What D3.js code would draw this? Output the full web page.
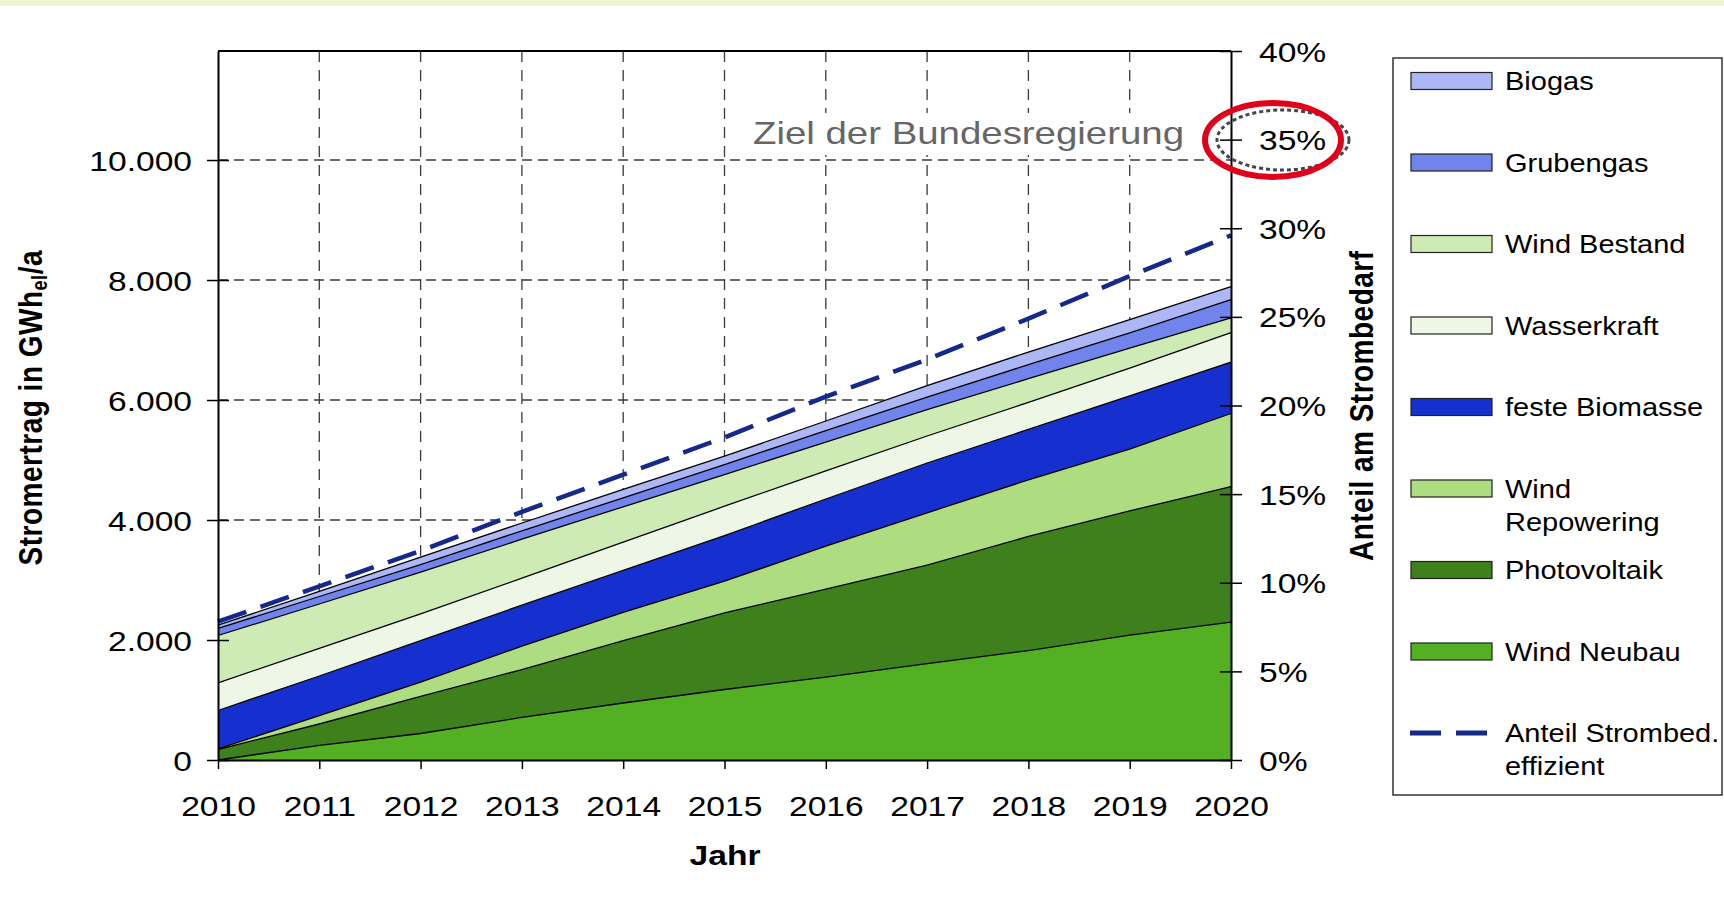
<!DOCTYPE html>
<html><head><meta charset="utf-8">
<script src="https://cdn.jsdelivr.net/npm/d3@7"></script>
<style>
html,body{margin:0;padding:0;background:#fff;overflow:hidden;}
svg{display:block;font-family:"Liberation Sans",Arial,sans-serif;}
</style></head><body>
<svg id="chart" width="1724" height="909"></svg>
<script>
// ---------------- data ----------------
const years = [2010,2011,2012,2013,2014,2015,2016,2017,2018,2019,2020];
const windNeubau     = [0,245,442,710,950,1175,1380,1608,1823,2083,2298];
const photovoltaik   = [175,355,618,798,1040,1278,1468,1639,1903,2069,2260];
const windRepowering = [12,140,237,389,470,527,716,873,944,1031,1217];
const festeBiomasse  = [638,660,693,683,700,760,786,830,840,887,857];
const wasserkraft    = [462,460,446,450,470,490,470,450,450,460,493];
const windBestand    = [788,740,694,650,590,528,480,440,395,333,243];
const grubengas      = [117,125,128,140,150,167,190,210,233,257,307];
const biogas         = [55,85,122,130,140,139,160,190,212,220,215];
const anteilEffizient = [7.8,9.8,11.8,14.0,16.1,18.2,20.5,22.6,24.9,27.3,29.6]; // %

const seriesNames  = ["Wind Neubau","Photovoltaik","Wind Repowering","feste Biomasse","Wasserkraft","Wind Bestand","Grubengas","Biogas"];
const seriesValues = [windNeubau,photovoltaik,windRepowering,festeBiomasse,wasserkraft,windBestand,grubengas,biogas];
const seriesColors = ["#53b023","#3e801c","#aedc80","#1630d0","#eef6e5","#cfebb5","#7184ec","#adb7f6"];
const legendOrder  = ["Biogas","Grubengas","Wind Bestand","Wasserkraft","feste Biomasse","Wind Repowering","Photovoltaik","Wind Neubau"];
const legendLabels = {"Wind Repowering":["Wind","Repowering"]};
const lineLabel    = ["Anteil Strombed.","effizient"];
const leftTicks  = [0,2000,4000,6000,8000,10000];
const rightTicks = [0,5,10,15,20,25,30,35,40];
const leftMax = 11817;   // GWh at top of plot (= 40 %)
const annotationText = "Ziel der Bundesregierung";

// ---------------- setup ----------------
const FONT = '"Liberation Sans", Arial, sans-serif';
const SX = 1.2;
const svg = d3.select("#chart");
const M = {left:218, right:1231, top:51, bottom:760};
const x  = d3.scaleLinear().domain([2010,2020]).range([M.left,M.right]);
const yL = d3.scaleLinear().domain([0,leftMax]).range([M.bottom,M.top]);
const yR = d3.scaleLinear().domain([0,40]).range([M.bottom,M.top]);
const de = d3.formatLocale({decimal:",",thousands:".",grouping:[3],currency:["","€"]});
const fmtDE = de.format(",d");

function stext(parent, tx, ty, str, o={}) {
  const t = parent.append("text")
    .attr("transform", `translate(${tx},${ty}) scale(${o.sx||SX},1)${o.rot?` rotate(${o.rot})`:""}`)
    .attr("font-size", o.size||28).attr("font-weight", o.weight||"normal")
    .attr("font-family", FONT)
    .attr("text-anchor", o.anchor||"start").attr("fill", o.fill||"#000");
  if (o.dy) t.attr("dy", o.dy);
  if (str !== null) t.text(str);
  return t;
}

// top band
svg.append("rect").attr("x",0).attr("y",0).attr("width",1724).attr("height",6).attr("fill","#eff5d0");

// grid
const grid = svg.append("g");
grid.selectAll(".hg").data(leftTicks.filter(d=>d>0)).join("line")
  .attr("x1",M.left).attr("x2",M.right).attr("y1",d=>yL(d)).attr("y2",d=>yL(d))
  .attr("stroke","#3a3a3a").attr("stroke-width",1.3).attr("stroke-dasharray","10,6");
grid.selectAll(".vg").data(years.slice(1,-1)).join("line")
  .attr("x1",d=>x(d)).attr("x2",d=>x(d)).attr("y1",M.top).attr("y2",M.bottom)
  .attr("stroke","#3a3a3a").attr("stroke-width",1.3).attr("stroke-dasharray","11,8");

// white box behind annotation
svg.append("rect").attr("x",742).attr("y",113).attr("width",453).attr("height",42).attr("fill","#fff");

// stacked areas
const table = years.map((yr,i)=>{
  const o = {year:yr};
  seriesNames.forEach((n,k)=>o[n]=seriesValues[k][i]);
  return o;
});
const stacked = d3.stack().keys(seriesNames)(table);
const area = d3.area().x(d=>x(d.data.year)).y0(d=>yL(d[0])).y1(d=>yL(d[1]));
const topLine = d3.line().x(d=>x(d.data.year)).y(d=>yL(d[1]));
const gA = svg.append("g");
gA.selectAll("path.a").data(stacked).join("path").attr("class","a")
  .attr("d",area).attr("fill",(d,i)=>seriesColors[i]);
gA.selectAll("path.l").data(stacked).join("path").attr("class","l")
  .attr("d",topLine).attr("fill","none").attr("stroke","#000").attr("stroke-width",1.3);

// dashed share line
svg.append("path").datum(anteilEffizient)
  .attr("d", d3.line().x((d,i)=>x(years[i])).y(d=>yR(d)))
  .attr("fill","none").attr("stroke","#16288c").attr("stroke-width",4.5).attr("stroke-dasharray","30,15");

// axes
const gL = svg.append("g").attr("transform",`translate(${M.left},0)`)
  .call(d3.axisLeft(yL).tickValues(leftTicks).tickFormat(fmtDE).tickSizeOuter(0));
gL.attr("font-size",28).attr("font-family",FONT);
gL.select(".domain").attr("stroke","#000").attr("stroke-width",2);
gL.selectAll(".tick line").attr("x1",-11).attr("x2",11).attr("stroke","#000").attr("stroke-width",1.5);
gL.selectAll(".tick text").attr("x",null).attr("dy","0.36em").attr("fill","#000")
  .attr("transform",`translate(-26,0) scale(${SX},1)`);

const gR = svg.append("g").attr("transform",`translate(${M.right},0)`)
  .call(d3.axisRight(yR).tickValues(rightTicks).tickFormat(d=>d+"%").tickSizeOuter(0));
gR.attr("font-size",28).attr("font-family",FONT);
gR.select(".domain").attr("stroke","#000").attr("stroke-width",2);
gR.selectAll(".tick line").attr("x1",-11).attr("x2",11).attr("stroke","#000").attr("stroke-width",1.5);
gR.selectAll(".tick text").attr("x",null).attr("dy","0.36em").attr("fill","#000")
  .attr("text-anchor","start").attr("transform",`translate(28,0) scale(${SX},1)`);

const gB = svg.append("g").attr("transform",`translate(0,${M.bottom})`)
  .call(d3.axisBottom(x).tickValues(years).tickFormat(d3.format("d")).tickSize(9).tickSizeOuter(0));
gB.attr("font-size",28).attr("font-family",FONT);
gB.select(".domain").attr("stroke","#000").attr("stroke-width",2);
gB.selectAll(".tick line").attr("stroke","#000").attr("stroke-width",1.5);
gB.selectAll(".tick text").attr("y",null).attr("dy",null).attr("fill","#000")
  .attr("transform",`translate(0,56) scale(${SX},1)`);

// top border
svg.append("line").attr("x1",M.left).attr("x2",M.right).attr("y1",M.top).attr("y2",M.top)
  .attr("stroke","#000").attr("stroke-width",2);

// titles
stext(svg, 725, 865, "Jahr", {weight:"bold", anchor:"middle", size:28});
const lt = stext(svg, 42, 408, null, {weight:"bold", anchor:"middle", size:28, rot:-90})
  .attr("textLength",315).attr("lengthAdjust","spacing");
lt.append("tspan").text("Stromertrag in GWh");
lt.append("tspan").attr("font-size",18).attr("dy",4).text("el");
lt.append("tspan").attr("dy",-4).text("/a");
stext(svg, 1373, 406, "Anteil am Strombedarf", {weight:"bold", anchor:"middle", size:28, rot:-90})
  .attr("textLength",310).attr("lengthAdjust","spacing");

// annotation
stext(svg, 753, 144, annotationText, {size:32, fill:"#666"});
svg.append("ellipse").attr("cx",1283).attr("cy",140).attr("rx",66).attr("ry",30)
  .attr("fill","none").attr("stroke","#444").attr("stroke-width",3).attr("stroke-dasharray","4,3");
svg.append("ellipse").attr("cx",1273).attr("cy",140).attr("rx",68).attr("ry",37)
  .attr("fill","none").attr("stroke","#e0001b").attr("stroke-width",6);

// legend
const lg = svg.append("g");
lg.append("rect").attr("x",1393).attr("y",58).attr("width",329).attr("height",737)
  .attr("fill","#fff").attr("stroke","#333").attr("stroke-width",1.5);
const LS = 81.5, L0 = 81;
legendOrder.forEach((name,i)=>{
  const cy = L0 + i*LS;
  const col = seriesColors[seriesNames.indexOf(name)];
  lg.append("rect").attr("x",1411).attr("y",cy-8.5).attr("width",81).attr("height",17)
    .attr("fill",col).attr("stroke","#222").attr("stroke-width",1.2);
  const lines = legendLabels[name] || [name];
  lines.forEach((ln,j)=> stext(lg, 1505, cy + j*33, ln, {size:25, sx:1.16, dy:"0.36em"}));
});
{
  const cy = L0 + legendOrder.length*LS;
  lg.append("line").attr("x1",1410).attr("x2",1488).attr("y1",cy).attr("y2",cy)
    .attr("stroke","#16288c").attr("stroke-width",5).attr("stroke-dasharray","31,15");
  lineLabel.forEach((ln,j)=> stext(lg, 1505, cy + j*33, ln, {size:25, sx:1.16, dy:"0.36em"}));
}
</script>
</body></html>
